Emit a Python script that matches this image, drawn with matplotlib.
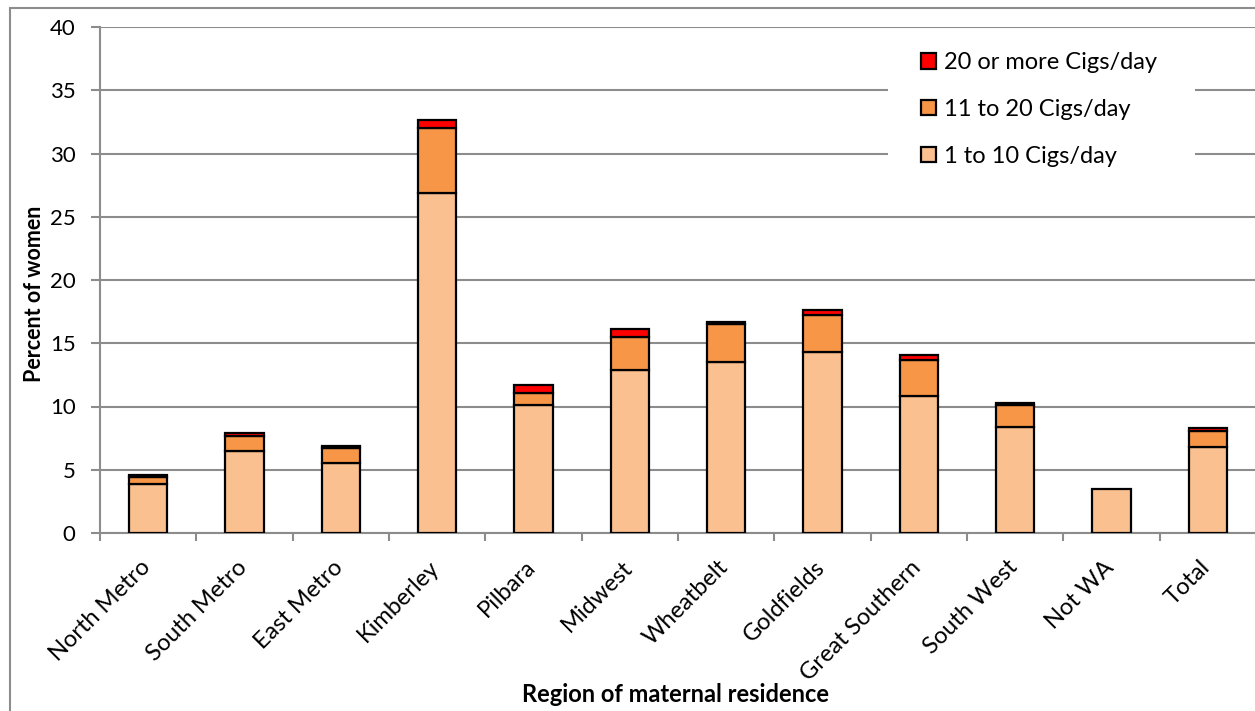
import matplotlib
matplotlib.use("Agg")
import matplotlib.pyplot as plt
from matplotlib.patches import Rectangle
from matplotlib.transforms import ScaledTranslation
import numpy as np

plt.rcParams['font.family'] = ['Lato', 'DejaVu Sans']

regions = ["North Metro", "South Metro", "East Metro", "Kimberley", "Pilbara",
           "Midwest", "Wheatbelt", "Goldfields", "Great Southern", "South West",
           "Not WA", "Total"]
cigs_1_10 = [3.9, 6.5, 5.5, 26.9, 10.1, 12.9, 13.5, 14.3, 10.8, 8.4, 3.5, 6.8]
cigs_11_20 = [0.55, 1.2, 1.2, 5.1, 1.0, 2.6, 3.0, 2.9, 2.9, 1.7, 0.0, 1.3]
cigs_20_plus = [0.15, 0.2, 0.2, 0.65, 0.6, 0.6, 0.2, 0.4, 0.4, 0.2, 0.0, 0.2]

c_light = "#FAC090"
c_mid = "#F79646"
c_red = "#FF0000"
grid_grey = "#8c8c8c"

W, H = 1255, 711
fig = plt.figure(figsize=(W / 100, H / 100), dpi=100)
ax = fig.add_axes([100 / W, 1 - 533 / H, 1156 / W, 506 / H])


def fx(px):
    return px / W


def fy(py):
    return 1 - py / H


# outer chart frame
fig.patches.append(Rectangle((fx(10), -0.1), 1.2, fy(8) + 0.1,
                             transform=fig.transFigure, fill=False,
                             edgecolor=grid_grey, linewidth=1.5, zorder=0))

x = np.arange(len(regions))
w = 0.4
b1 = np.array(cigs_1_10)
b2 = b1 + np.array(cigs_11_20)
kw = dict(width=w, edgecolor="black", linewidth=1.6, zorder=3)
h1 = ax.bar(x, cigs_1_10, color=c_light, label="1 to 10 Cigs/day", **kw)
mask2 = np.array(cigs_11_20) > 0
h2 = ax.bar(x[mask2], np.array(cigs_11_20)[mask2], bottom=b1[mask2], color=c_mid,
            label="11 to 20 Cigs/day", **kw)
mask3 = np.array(cigs_20_plus) > 0
h3 = ax.bar(x[mask3], np.array(cigs_20_plus)[mask3], bottom=b2[mask3], color=c_red,
            label="20 or more Cigs/day", **kw)

ax.set_xlim(-0.5, len(regions) - 0.5)
ax.set_ylim(0, 40)
ax.set_yticks(np.arange(0, 41, 5))
ax.yaxis.grid(True, color=grid_grey, linewidth=1.5, zorder=0)
ax.set_axisbelow(True)

for s in ["top", "right"]:
    ax.spines[s].set_visible(False)
for s in ["left", "bottom"]:
    ax.spines[s].set_color(grid_grey)
    ax.spines[s].set_linewidth(1.5)

ax.tick_params(axis="y", length=6.5, width=1.5, color=grid_grey, labelsize=16, pad=11)
ax.set_xticks(np.arange(-0.5, len(regions), 1.0), minor=False)
ax.set_xticklabels([])
ax.tick_params(axis="x", which="major", length=6, width=1.5, color=grid_grey)
ax.set_xticks(x, minor=True)
ax.set_xticklabels(regions, minor=True, rotation=45, ha="right",
                   rotation_mode="anchor", fontsize=17)
ax.tick_params(axis="x", which="minor", length=0, pad=17)
shift = ScaledTranslation(-6 / 72, 0, fig.dpi_scale_trans)
for lbl in ax.get_xticklabels(minor=True):
    lbl.set_transform(lbl.get_transform() + shift)

fig.text(fx(35), fy(294), "Percent of women", rotation=90, fontsize=15.5,
         fontweight="bold", ha="center", va="center")
fig.text(fx(675), fy(695), "Region of maternal residence", fontsize=17,
         fontweight="bold", ha="center", va="center")

# white panel behind the legend
ax.add_patch(Rectangle((fx(888), fy(185)), fx(1195) - fx(888), fy(34) - fy(185),
                       transform=fig.transFigure, facecolor="white",
                       edgecolor="none", zorder=2))
leg = fig.legend(handles=[h3, h2, h1], loc="upper left",
                 bbox_to_anchor=(fx(921), fy(52)), frameon=False, fontsize=17,
                 handlelength=0.64, handleheight=0.64, handletextpad=0.35,
                 labelspacing=1.1, borderpad=0, borderaxespad=0)

fig.savefig("out.png", dpi=100)
